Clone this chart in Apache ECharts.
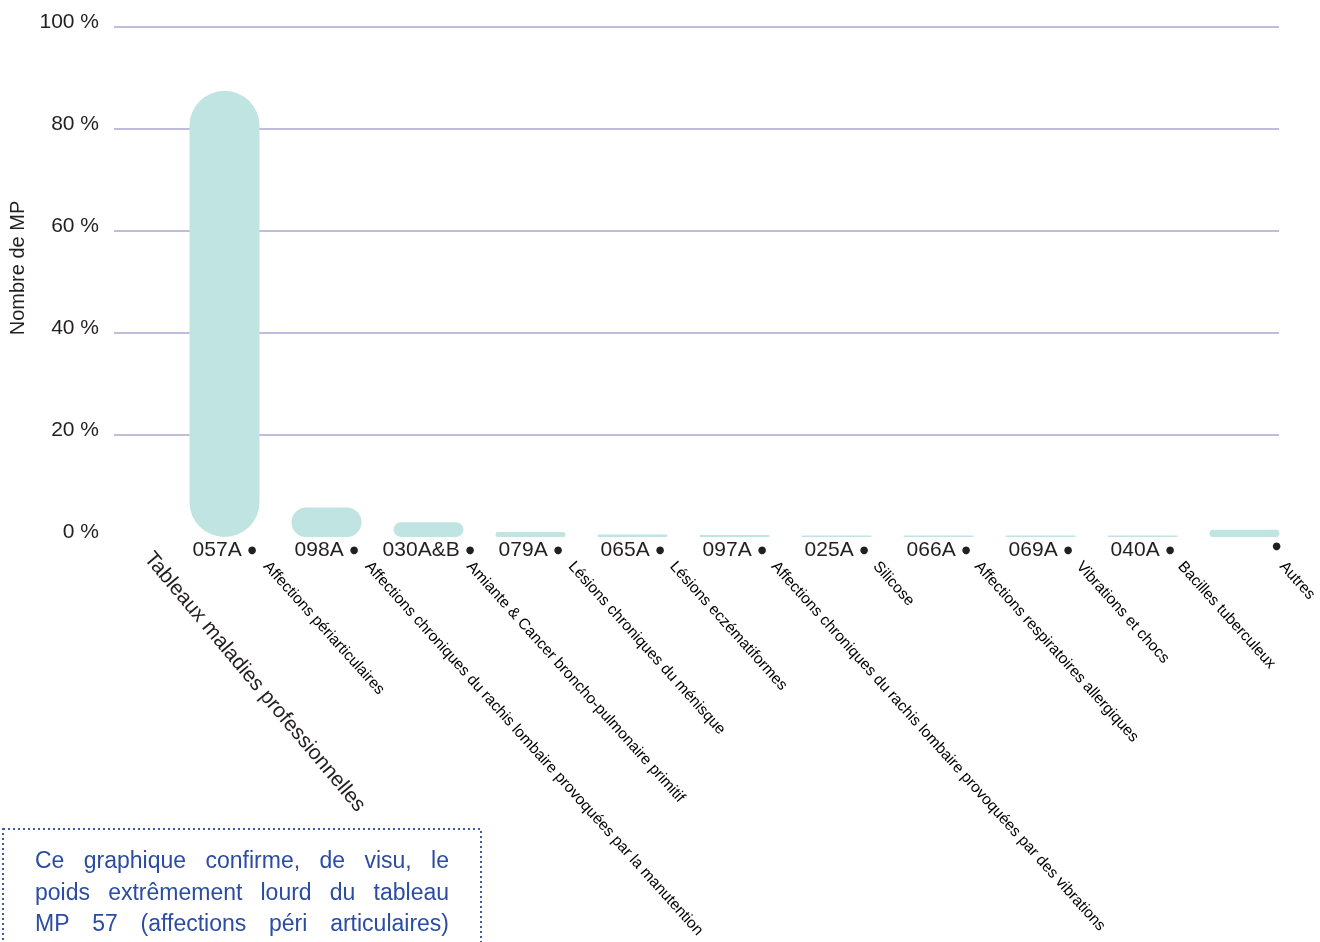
<!DOCTYPE html>
<html><head><meta charset="utf-8">
<script src="https://cdn.jsdelivr.net/npm/echarts@6/dist/echarts.min.js"></script>
<style>html,body{margin:0;padding:0;background:#fff}#c{width:1320px;height:942px}</style>
</head><body><div id="c"></div>
<script>
// ---- data ----
const codes = ['057A','098A','030A&B','079A','065A','097A','025A','066A','069A','040A',''];
const descriptions = [
  'Affections périarticulaires',
  'Affections chroniques du rachis lombaire provoquées par la manutention',
  'Amiante & Cancer broncho-pulmonaire primitif',
  'Lésions chroniques du ménisque',
  'Lésions eczématiformes',
  'Affections chroniques du rachis lombaire provoquées par des vibrations',
  'Silicose',
  'Affections respiratoires allergiques',
  'Vibrations et chocs',
  'Bacilles tuberculeux',
  'Autres'
];
const values = [87.5, 5.8, 2.9, 1.0, 0.5, 0.4, 0.3, 0.3, 0.3, 0.3, 1.4];
const yMin = 0, yMax = 100, yStep = 20;
const yAxisName = 'Nombre de MP';
const xAxisTitle = 'Tableaux maladies professionnelles';
const noteLines = [
  'Ce graphique confirme, de visu, le',
  'poids extrêmement lourd du tableau',
  'MP 57 (affections péri articulaires)'
];

// ---- styles ----
const FONT = '"Liberation Sans", Arial, Helvetica, sans-serif';
const TXT = '#231f20';
const NOTE = '#2b4ca3';

const chart = echarts.init(document.getElementById('c'), null, {renderer: 'canvas'});

// justified note text
const cv = document.createElement('canvas').getContext('2d');
const noteSize = 23;
cv.font = noteSize + 'px ' + FONT;
const noteEls = [];
const noteLeft = 35, noteRight = 449, noteTop = 862, noteLH = 31.5;
noteLines.forEach((line, li) => {
  const words = line.split(' ');
  const ws = words.map(w => cv.measureText(w).width);
  const total = ws.reduce((a, b) => a + b, 0);
  const gap = (noteRight - noteLeft - total) / (words.length - 1);
  let x = noteLeft;
  words.forEach((w, i) => {
    noteEls.push({
      type: 'text', x: x, y: noteTop + li * noteLH, z: 10,
      style: {text: w, fill: NOTE, font: noteSize + 'px ' + FONT,
        textAlign: 'left', align: 'left', textVerticalAlign: 'middle', verticalAlign: 'middle'}
    });
    x += ws[i] + gap;
  });
});

const option = {
  backgroundColor: '#fff',
  animation: false,
  grid: [
    {left: 114, right: 41, top: 27, height: 510},
    {left: 173.5, width: 1122, top: 27, height: 510},
    {left: 266, width: 1020, top: 27, height: 510}
  ],
  xAxis: [
    {gridIndex: 0, type: 'category', data: codes, show: false},
    {gridIndex: 1, type: 'category', data: codes,
      axisLine: {show: false}, axisTick: {show: false},
      axisLabel: {interval: 0, margin: 3,
        formatter: v => v ? '{c|' + v + '}{d|●}' : '{sp|}{d|●}',
        rich: {
          c: {fontFamily: FONT, fontSize: 21, color: TXT},
          sp: {width: 58},
          d: {fontFamily: 'DejaVu Sans', fontSize: 10, color: TXT, padding: [0, 0, 0, 6]}
        }}},
    {gridIndex: 2, type: 'category', data: descriptions, boundaryGap: false,
      axisLine: {show: false}, axisTick: {show: false},
      axisLabel: {interval: 0, rotate: -48, margin: 27,
        fontFamily: FONT, fontSize: 15.5, color: '#000'}}
  ],
  yAxis: [
    {gridIndex: 0, type: 'value', min: yMin, max: yMax, interval: yStep,
      axisLine: {show: false}, axisTick: {show: false},
      axisLabel: {margin: 15,
        formatter: '{t|{value} %}',
        rich: {t: {fontFamily: FONT, fontSize: 21, color: TXT, padding: [0, 0, 10, 0]}}},
      splitLine: {showMinLine: false, lineStyle: {color: '#aaa6d1', width: 1.5}},
      name: yAxisName, nameLocation: 'middle', nameGap: 84,
      nameTextStyle: {fontFamily: FONT, fontSize: 20, color: TXT, padding: [0, 0, 0, 28]}},
    {gridIndex: 1, type: 'value', min: yMin, max: yMax, interval: yStep, show: false},
    {gridIndex: 2, type: 'value', min: yMin, max: yMax, interval: yStep, show: false}
  ],
  series: [{
    type: 'bar', xAxisIndex: 1, yAxisIndex: 1, data: values,
    barWidth: 70,
    itemStyle: {color: '#bfe4e1', borderRadius: 35}
  }],
  graphic: [
    {type: 'text', x: 148, y: 555, rotation: -50 * Math.PI / 180,
      style: {text: xAxisTitle, fill: TXT, font: '21px ' + FONT,
        textAlign: 'left', align: 'left', textVerticalAlign: 'middle', verticalAlign: 'middle'}},
    {type: 'rect', shape: {x: 3, y: 829, width: 478, height: 200},
      style: {fill: '#fff', stroke: '#3d5aa6', lineWidth: 2, lineDash: [2, 3]}, z: 9}
  ].concat(noteEls)
};
chart.setOption(option);
</script></body></html>
